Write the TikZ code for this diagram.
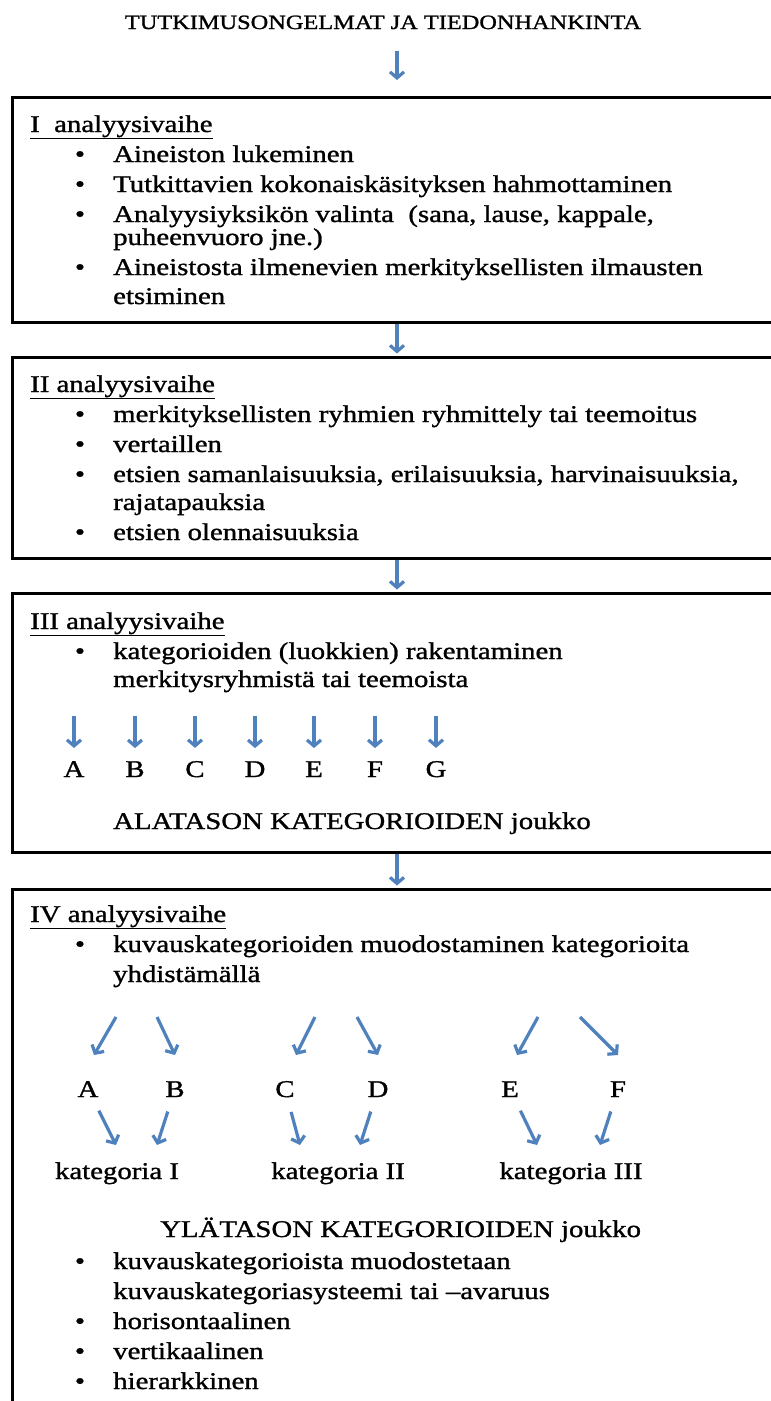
\documentclass[tikz,border=0pt]{standalone}
\usepackage{fontspec}
\setmainfont[FakeStretch=1.2,FakeBold=1.2]{Liberation Serif}
\usetikzlibrary{arrows.meta}
\usetikzlibrary{positioning}
\definecolor{arrowblue}{RGB}{79,129,189}
\tikzset{
phase/.style={rectangle,draw=black,line width=3pt,
minimum width=770pt,inner sep=0pt},
flow/.style={draw=arrowblue,line width=3.2pt,
-{Straight Barb[length=6pt,width=14pt]}},
txt/.style={anchor=base west,inner sep=0pt,
font=\fontsize{24}{28}\selectfont},
bul/.style={anchor=base,inner sep=0pt,
font=\fontsize{24}{28}\selectfont},
letter/.style={anchor=base,inner sep=0pt,
font=\fontsize{24}{28}\selectfont},
toptext/.style={anchor=base,inner sep=0pt,
font=\fontsize{20.3}{24}\selectfont}
}
\begin{document}
\begin{tikzpicture}[x=1pt,y=-1pt]
\clip (0,0) rectangle (771,1401);

\node[toptext] (T) at (383,29) {TUTKIMUSONGELMAT JA TIEDONHANKINTA};

\node[phase,minimum height=225pt] (P1) at (397,209.5) {};
\node[phase,minimum height=201pt] (P2) at (397,457.5) {};
\node[phase,minimum height=259pt] (P3) at (397,722.5) {};
\node[phase,minimum height=536pt] (P4) at (397,1157) {};

% I analyysivaihe
\node[txt] (h1) at (30,132) {\underline{I\ \ analyysivaihe}};
\node[bul] (b11) at (80,162) {\textbullet};
\node[txt] (i11) at (113,162) {Aineiston lukeminen};
\node[bul] (b12) at (80,192) {\textbullet};
\node[txt] (i12) at (113,192) {Tutkittavien kokonaiskäsityksen hahmottaminen};
\node[bul] (b13) at (80,222) {\textbullet};
\node[txt] (i13) at (113,222) {Analyysiyksikön valinta\ \ (sana, lause, kappale,};
\node[txt] (i13b) at (113,245) {puheenvuoro jne.)};
\node[bul] (b14) at (80,275) {\textbullet};
\node[txt] (i14) at (113,275) {Aineistosta ilmenevien merkityksellisten ilmausten};
\node[txt] (i14b) at (113,304) {etsiminen};

% II analyysivaihe
\node[txt] (h2) at (30,392) {\underline{II analyysivaihe}};
\node[bul] (b21) at (80,422) {\textbullet};
\node[txt] (i21) at (113,422) {merkityksellisten ryhmien ryhmittely tai teemoitus};
\node[bul] (b22) at (80,452) {\textbullet};
\node[txt] (i22) at (113,452) {vertaillen};
\node[bul] (b23) at (80,482) {\textbullet};
\node[txt] (i23) at (113,482) {etsien samanlaisuuksia, erilaisuuksia, harvinaisuuksia,};
\node[txt] (i23b) at (113,510) {rajatapauksia};
\node[bul] (b24) at (80,540) {\textbullet};
\node[txt] (i24) at (113,540) {etsien olennaisuuksia};

% III analyysivaihe
\node[txt] (h3) at (30,629) {\underline{III analyysivaihe}};
\node[bul] (b31) at (80,659) {\textbullet};
\node[txt] (i31) at (113,659) {kategorioiden (luokkien) rakentaminen};
\node[txt] (i31b) at (113,687) {merkitysryhmistä tai teemoista};
\foreach \l/\x in {A/74,B/135,C/195,D/255,E/314,F/375,G/436}{
  \coordinate (t\l) at (\x,716);
  \node[letter] (r\l) at (\x,777) {\l};
  \draw[flow,shorten >=13pt] (t\l) -- (r\l);
}
\node[txt] (alat) at (113,829) {ALATASON KATEGORIOIDEN joukko};

% IV analyysivaihe
\node[txt] (h4) at (30,922) {\underline{IV analyysivaihe}};
\node[bul] (b41) at (80,952) {\textbullet};
\node[txt] (i41) at (113,952) {kuvauskategorioiden muodostaminen kategorioita};
\node[txt] (i41b) at (113,982) {yhdistämällä};
\foreach \i/\xa/\xb in {1/116/94,2/157/175,3/315/296,4/357/378,5/538/517,6/580/618}{
  \coordinate (us\i) at (\xa,1017);
  \coordinate (ue\i) at (\xb,1055);
  \draw[flow] (us\i) -- (ue\i);
}
\foreach \l/\x/\xe in {A/88/116,B/175/157,C/285/300,D/378/360,E/510/537,F/618/600}{
  \node[letter] (s\l) at (\x,1097) {\l};
  \coordinate (le\l) at (\xe,1145);
  \draw[flow,shorten <=15pt] (s\l) -- (le\l);
}
\node[letter] (k1) at (117,1179) {kategoria I};
\node[letter] (k2) at (338,1179) {kategoria II};
\node[letter] (k3) at (571,1179) {kategoria III};
\node[txt] (ylat) at (160,1237) {YLÄTASON KATEGORIOIDEN joukko};
\node[bul] (b42) at (80,1269) {\textbullet};
\node[txt] (i42) at (113,1269) {kuvauskategorioista muodostetaan};
\node[txt] (i42b) at (113,1299) {kuvauskategoriasysteemi tai –avaruus};
\node[bul] (b43) at (80,1329) {\textbullet};
\node[txt] (i43) at (113,1329) {horisontaalinen};
\node[bul] (b44) at (80,1359) {\textbullet};
\node[txt] (i44) at (113,1359) {vertikaalinen};
\node[bul] (b45) at (80,1389) {\textbullet};
\node[txt] (i45) at (113,1389) {hierarkkinen};

\draw[flow,shorten <=22pt,shorten >=15.5pt] (T.south -| P1.north) -- (P1.north);
\draw[flow,shorten >=2pt] (P1.south) -- (P2.north);
\draw[flow,shorten >=2pt] (P2.south) -- (P3.north);
\draw[flow,shorten >=2pt] (P3.south) -- (P4.north);
\end{tikzpicture}
\end{document}
